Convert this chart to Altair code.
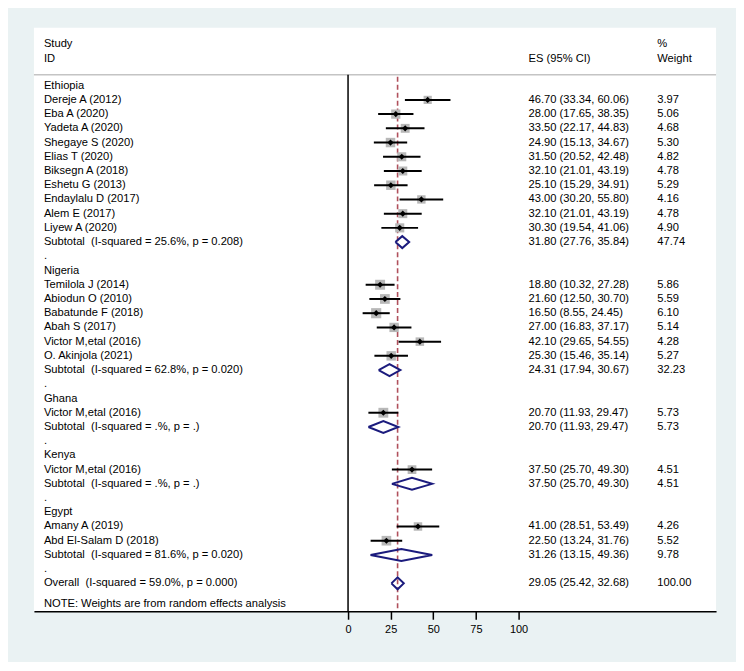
import altair as alt
import pandas as pd

# ---------------- data ----------------
countries = ["Ethiopia", "Nigeria", "Ghana", "Kenya", "Egypt"]

study_names = ["Dereje A (2012)", "Eba A (2020)", "Yadeta A (2020)", "Shegaye S (2020)",
               "Elias T (2020)", "Biksegn A (2018)", "Eshetu G (2013)", "Endaylalu D (2017)",
               "Alem E (2017)", "Liyew A (2020)",
               "Temilola J (2014)", "Abiodun O (2010)", "Babatunde F (2018)", "Abah S (2017)",
               "Victor M,etal (2016)", "O. Akinjola (2021)",
               "Victor M,etal (2016)",
               "Victor M,etal (2016)",
               "Amany A (2019)", "Abd El-Salam D (2018)"]
study_country = ["Ethiopia"] * 10 + ["Nigeria"] * 6 + ["Ghana", "Kenya", "Egypt", "Egypt"]
study_es = [46.70, 28.00, 33.50, 24.90, 31.50, 32.10, 25.10, 43.00, 32.10, 30.30,
            18.80, 21.60, 16.50, 27.00, 42.10, 25.30, 20.70, 37.50, 41.00, 22.50]
study_lci = [33.34, 17.65, 22.17, 15.13, 20.52, 21.01, 15.29, 30.20, 21.01, 19.54,
             10.32, 12.50, 8.55, 16.83, 29.65, 15.46, 11.93, 25.70, 28.51, 13.24]
study_uci = [60.06, 38.35, 44.83, 34.67, 42.48, 43.19, 34.91, 55.80, 43.19, 41.06,
             27.28, 30.70, 24.45, 37.17, 54.55, 35.14, 29.47, 49.30, 53.49, 31.76]
study_weight = [3.97, 5.06, 4.68, 5.30, 4.82, 4.78, 5.29, 4.16, 4.78, 4.90,
                5.86, 5.59, 6.10, 5.14, 4.28, 5.27, 5.73, 4.51, 4.26, 5.52]

sub_es = [31.80, 24.31, 20.70, 37.50, 31.26]
sub_lci = [27.76, 17.94, 11.93, 25.70, 13.15]
sub_uci = [35.84, 30.67, 29.47, 49.30, 49.36]
sub_weight = [47.74, 32.23, 5.73, 4.51, 9.78]
sub_i2 = ["25.6%", "62.8%", ".%", ".%", "81.6%"]
sub_p = ["0.208", "0.020", ".", ".", "0.020"]

overall_es, overall_lci, overall_uci, overall_weight = 29.05, 25.42, 32.68, 100.00
overall_i2, overall_p = "59.0%", "0.000"

x_ticks = [0, 25, 50, 75, 100]

# ---------------- build tables ----------------
def ci_text(e, l, u):
    return f"{e:.2f} ({l:.2f}, {u:.2f})"

rows = []
r = 0
for ci, c in enumerate(countries):
    rows.append(dict(row=r, label=c, kind="group"))
    r += 1
    for i, n in enumerate(study_names):
        if study_country[i] != c:
            continue
        rows.append(dict(row=r, label=n, kind="study", es=study_es[i], lci=study_lci[i],
                         uci=study_uci[i], weight=study_weight[i],
                         est=ci_text(study_es[i], study_lci[i], study_uci[i]),
                         wt=f"{study_weight[i]:.2f}"))
        r += 1
    rows.append(dict(row=r, label=f"Subtotal\u00a0 (I-squared = {sub_i2[ci]}, p = {sub_p[ci]})",
                     kind="pooled", es=sub_es[ci], lci=sub_lci[ci], uci=sub_uci[ci],
                     weight=sub_weight[ci], est=ci_text(sub_es[ci], sub_lci[ci], sub_uci[ci]),
                     wt=f"{sub_weight[ci]:.2f}"))
    r += 1
    rows.append(dict(row=r, label=".", kind="dot"))
    r += 1
rows.append(dict(row=r, label=f"Overall\u00a0 (I-squared = {overall_i2}, p = {overall_p})",
                 kind="pooled", es=overall_es, lci=overall_lci, uci=overall_uci,
                 weight=overall_weight, est=ci_text(overall_es, overall_lci, overall_uci),
                 wt=f"{overall_weight:.2f}"))
df = pd.DataFrame(rows)
studies = df[df.kind == "study"]
pooled = df[df.kind == "pooled"]

half_h = 0.42
poly = []
for k, p in enumerate(pooled.itertuples()):
    pts = [(p.lci, p.row), (p.es, p.row - half_h), (p.uci, p.row), (p.es, p.row + half_h), (p.lci, p.row)]
    for o, (xx, yy) in enumerate(pts):
        poly.append(dict(id=k, ord=o, px=xx, py=yy))
poly = pd.DataFrame(poly)

single = pd.DataFrame({"ref": [overall_es], "zero": [0]})

# ---------------- layout ----------------
W, H = 684, 585
font = "Liberation Sans"
fs = 11.2
LINE_Y = 47

xscale = alt.Scale(domain=[-184.2, 215.8], nice=False, zero=False)
xaxis = alt.Axis(values=x_ticks, title=None, grid=False, domainColor="black", domainWidth=1.5,
                 tickColor="black", tickWidth=1.5, tickSize=8, labelFontSize=11, labelFont=font,
                 labelColor="black", labelPadding=4, format="d")
yscale = alt.Scale(domain=[-4.067, 36.96], nice=False, zero=False, reverse=True)

def X(field):
    return alt.X(field, type="quantitative", scale=xscale, axis=xaxis)

def Y(field):
    return alt.Y(field, type="quantitative", scale=yscale, axis=None)

base1 = alt.Chart(single)

header_rule = base1.mark_rule(color="#c4c4c4", strokeWidth=1.5).encode(
    x=alt.value(0), x2=alt.value(W), y=alt.value(LINE_Y))

zero_line = base1.mark_rule(color="black", strokeWidth=1.5).encode(
    x=X("zero"), y=alt.value(LINE_Y), y2=alt.value(H))

overall_line = base1.mark_rule(color="#b0505c", strokeWidth=1.6, strokeDash=[5, 3]).encode(
    x=X("ref"), y=alt.value(LINE_Y + 2), y2=alt.value(H))

squares = alt.Chart(studies).mark_square(color="#b8b8b8", opacity=1).encode(
    x=X("es"), y=Y("row"),
    size=alt.Size("weight:Q", scale=alt.Scale(type="linear", domain=[0, 10], range=[0, 170]), legend=None))

ci_rules = alt.Chart(studies).mark_rule(color="black", strokeWidth=2).encode(
    x=X("lci"), x2="uci", y=Y("row"))

points = alt.Chart(studies).mark_point(shape="diamond", filled=True, color="black", size=38, opacity=1).encode(
    x=X("es"), y=Y("row"))

diamonds = alt.Chart(poly).mark_line(color="#1b1b7d", strokeWidth=2, strokeJoin="miter").encode(
    x=X("px"), y=Y("py"), detail="id:N", order="ord:Q")

def txt(data, field, xpix):
    return alt.Chart(data).mark_text(align="left", baseline="middle", font=font, fontSize=fs,
                                     color="black").encode(x=alt.value(xpix), y=Y("row"), text=f"{field}:N")

labels = txt(df, "label", 10)
est_text = txt(df.dropna(subset=["est"]), "est", 496)
wt_text = txt(df.dropna(subset=["wt"]), "wt", 625)

headers = pd.DataFrame(dict(
    t=["Study", "ID", "ES (95% CI)", "%", "Weight", "NOTE: Weights are from random effects analysis"],
    hx=[10, 10, 496, 625, 625, 10],
    hy=[16, 31, 31, 16, 31, 578]))
head_text = alt.Chart(headers).mark_text(align="left", baseline="middle", font=font, fontSize=fs,
                                         color="black").encode(
    x=alt.X("hx:Q", scale=None), y=alt.Y("hy:Q", scale=None), text="t:N")

chart = alt.layer(header_rule, zero_line, overall_line, squares, ci_rules, points, diamonds,
                  labels, est_text, wt_text, head_text).properties(
    width=W, height=H, background="#eaf2f3",
    padding={"left": 25, "top": 19, "right": 19, "bottom": 27}
).configure_view(fill="white", stroke=None)

chart.save("out.html", embed_options={"renderer": "svg", "actions": False})
